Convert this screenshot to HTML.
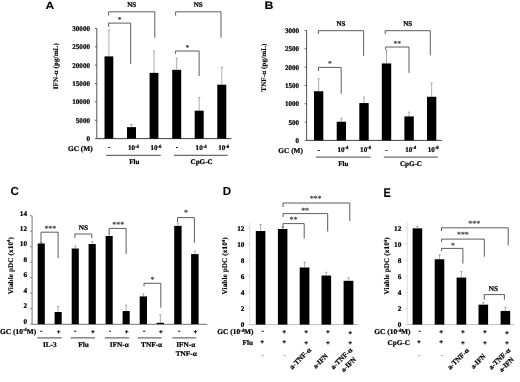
<!DOCTYPE html>
<html><head><meta charset="utf-8"><title>Figure</title>
<style>
html,body{margin:0;padding:0;background:#fff;}
body{width:520px;height:382px;overflow:hidden;font-family:"Liberation Serif",serif;}
svg{display:block;text-rendering:geometricPrecision;}
</style></head><body>
<svg width="520" height="382" viewBox="0 0 520 382">
<defs><filter id="bl" x="0" y="0" width="520" height="382" filterUnits="userSpaceOnUse"><feGaussianBlur stdDeviation="0.45"/></filter><filter id="bl2" x="0" y="0" width="520" height="382" filterUnits="userSpaceOnUse"><feGaussianBlur stdDeviation="0.25"/></filter></defs>
<rect x="0" y="0" width="520" height="382" fill="#ffffff"/>
<g filter="url(#bl2)">
<line x1="96.80" y1="28.40" x2="96.80" y2="138.60" stroke="#2a2a2a" stroke-width="0.8"/>
<line x1="96.80" y1="138.60" x2="231.50" y2="138.60" stroke="#2a2a2a" stroke-width="0.9"/>
<line x1="94.80" y1="138.60" x2="96.80" y2="138.60" stroke="#2a2a2a" stroke-width="0.7"/>
<line x1="94.80" y1="120.23" x2="96.80" y2="120.23" stroke="#2a2a2a" stroke-width="0.7"/>
<line x1="94.80" y1="101.87" x2="96.80" y2="101.87" stroke="#2a2a2a" stroke-width="0.7"/>
<line x1="94.80" y1="83.50" x2="96.80" y2="83.50" stroke="#2a2a2a" stroke-width="0.7"/>
<line x1="94.80" y1="65.13" x2="96.80" y2="65.13" stroke="#2a2a2a" stroke-width="0.7"/>
<line x1="94.80" y1="46.77" x2="96.80" y2="46.77" stroke="#2a2a2a" stroke-width="0.7"/>
<line x1="94.80" y1="28.40" x2="96.80" y2="28.40" stroke="#2a2a2a" stroke-width="0.7"/>
<line x1="108.90" y1="56.39" x2="108.90" y2="30.20" stroke="#8a8a8a" stroke-width="0.7"/>
<line x1="107.70" y1="30.20" x2="110.10" y2="30.20" stroke="#8a8a8a" stroke-width="0.7"/>
<line x1="131.50" y1="127.14" x2="131.50" y2="124.40" stroke="#8a8a8a" stroke-width="0.7"/>
<line x1="130.30" y1="124.40" x2="132.70" y2="124.40" stroke="#8a8a8a" stroke-width="0.7"/>
<line x1="154.00" y1="72.85" x2="154.00" y2="51.00" stroke="#8a8a8a" stroke-width="0.7"/>
<line x1="152.80" y1="51.00" x2="155.20" y2="51.00" stroke="#8a8a8a" stroke-width="0.7"/>
<line x1="176.70" y1="69.84" x2="176.70" y2="58.30" stroke="#8a8a8a" stroke-width="0.7"/>
<line x1="175.50" y1="58.30" x2="177.90" y2="58.30" stroke="#8a8a8a" stroke-width="0.7"/>
<line x1="199.20" y1="110.68" x2="199.20" y2="97.50" stroke="#8a8a8a" stroke-width="0.7"/>
<line x1="198.00" y1="97.50" x2="200.40" y2="97.50" stroke="#8a8a8a" stroke-width="0.7"/>
<line x1="221.80" y1="84.68" x2="221.80" y2="67.40" stroke="#8a8a8a" stroke-width="0.7"/>
<line x1="220.60" y1="67.40" x2="223.00" y2="67.40" stroke="#8a8a8a" stroke-width="0.7"/>
<line x1="106.20" y1="155.30" x2="160.70" y2="155.30" stroke="#333" stroke-width="0.9"/>
<line x1="174.00" y1="155.30" x2="227.60" y2="155.30" stroke="#333" stroke-width="0.9"/>
<polyline points="108.60,15.60 108.60,11.80 154.80,11.80 154.80,37.70" fill="none" stroke="#333" stroke-width="0.8"/>
<polyline points="108.60,27.00 108.60,23.10 130.70,23.10 130.70,64.00" fill="none" stroke="#333" stroke-width="0.8"/>
<polyline points="175.60,15.60 175.60,11.80 221.00,11.80 221.00,37.70" fill="none" stroke="#333" stroke-width="0.8"/>
<polyline points="175.60,54.00 175.60,51.00 199.10,51.00 199.10,76.00" fill="none" stroke="#333" stroke-width="0.8"/>
<line x1="306.60" y1="30.40" x2="306.60" y2="140.40" stroke="#2a2a2a" stroke-width="0.8"/>
<line x1="306.60" y1="140.40" x2="441.80" y2="140.40" stroke="#2a2a2a" stroke-width="0.9"/>
<line x1="304.60" y1="140.40" x2="306.60" y2="140.40" stroke="#2a2a2a" stroke-width="0.7"/>
<line x1="304.60" y1="122.07" x2="306.60" y2="122.07" stroke="#2a2a2a" stroke-width="0.7"/>
<line x1="304.60" y1="103.73" x2="306.60" y2="103.73" stroke="#2a2a2a" stroke-width="0.7"/>
<line x1="304.60" y1="85.40" x2="306.60" y2="85.40" stroke="#2a2a2a" stroke-width="0.7"/>
<line x1="304.60" y1="67.07" x2="306.60" y2="67.07" stroke="#2a2a2a" stroke-width="0.7"/>
<line x1="304.60" y1="48.73" x2="306.60" y2="48.73" stroke="#2a2a2a" stroke-width="0.7"/>
<line x1="304.60" y1="30.40" x2="306.60" y2="30.40" stroke="#2a2a2a" stroke-width="0.7"/>
<line x1="318.65" y1="91.23" x2="318.65" y2="78.70" stroke="#8a8a8a" stroke-width="0.7"/>
<line x1="317.45" y1="78.70" x2="319.85" y2="78.70" stroke="#8a8a8a" stroke-width="0.7"/>
<line x1="341.35" y1="121.74" x2="341.35" y2="118.40" stroke="#8a8a8a" stroke-width="0.7"/>
<line x1="340.15" y1="118.40" x2="342.55" y2="118.40" stroke="#8a8a8a" stroke-width="0.7"/>
<line x1="364.00" y1="103.07" x2="364.00" y2="97.00" stroke="#8a8a8a" stroke-width="0.7"/>
<line x1="362.80" y1="97.00" x2="365.20" y2="97.00" stroke="#8a8a8a" stroke-width="0.7"/>
<line x1="386.50" y1="63.44" x2="386.50" y2="50.30" stroke="#8a8a8a" stroke-width="0.7"/>
<line x1="385.30" y1="50.30" x2="387.70" y2="50.30" stroke="#8a8a8a" stroke-width="0.7"/>
<line x1="409.10" y1="116.42" x2="409.10" y2="112.10" stroke="#8a8a8a" stroke-width="0.7"/>
<line x1="407.90" y1="112.10" x2="410.30" y2="112.10" stroke="#8a8a8a" stroke-width="0.7"/>
<line x1="431.65" y1="96.77" x2="431.65" y2="83.00" stroke="#8a8a8a" stroke-width="0.7"/>
<line x1="430.45" y1="83.00" x2="432.85" y2="83.00" stroke="#8a8a8a" stroke-width="0.7"/>
<line x1="315.80" y1="157.10" x2="370.60" y2="157.10" stroke="#333" stroke-width="0.9"/>
<line x1="383.80" y1="157.10" x2="437.90" y2="157.10" stroke="#333" stroke-width="0.9"/>
<polyline points="318.40,34.00 318.40,30.70 363.60,30.70 363.60,55.80" fill="none" stroke="#333" stroke-width="0.8"/>
<polyline points="318.40,71.00 318.40,67.40 341.20,67.40 341.20,93.80" fill="none" stroke="#333" stroke-width="0.8"/>
<polyline points="385.20,34.00 385.20,30.70 430.30,30.70 430.30,55.30" fill="none" stroke="#333" stroke-width="0.8"/>
<polyline points="385.60,49.50 385.60,47.00 409.00,47.00 409.00,72.90" fill="none" stroke="#333" stroke-width="0.8"/>
<line x1="32.10" y1="215.80" x2="32.10" y2="324.10" stroke="#555" stroke-width="0.8"/>
<line x1="32.10" y1="324.30" x2="207.30" y2="324.30" stroke="#444" stroke-width="0.75"/>
<line x1="30.10" y1="324.10" x2="32.10" y2="324.10" stroke="#555" stroke-width="0.7"/>
<line x1="30.10" y1="308.63" x2="32.10" y2="308.63" stroke="#555" stroke-width="0.7"/>
<line x1="30.10" y1="293.16" x2="32.10" y2="293.16" stroke="#555" stroke-width="0.7"/>
<line x1="30.10" y1="277.69" x2="32.10" y2="277.69" stroke="#555" stroke-width="0.7"/>
<line x1="30.10" y1="262.21" x2="32.10" y2="262.21" stroke="#555" stroke-width="0.7"/>
<line x1="30.10" y1="246.74" x2="32.10" y2="246.74" stroke="#555" stroke-width="0.7"/>
<line x1="30.10" y1="231.27" x2="32.10" y2="231.27" stroke="#555" stroke-width="0.7"/>
<line x1="30.10" y1="215.80" x2="32.10" y2="215.80" stroke="#555" stroke-width="0.7"/>
<line x1="41.25" y1="243.49" x2="41.25" y2="242.50" stroke="#8a8a8a" stroke-width="0.7"/>
<line x1="40.05" y1="242.50" x2="42.45" y2="242.50" stroke="#8a8a8a" stroke-width="0.7"/>
<line x1="58.15" y1="312.03" x2="58.15" y2="306.50" stroke="#8a8a8a" stroke-width="0.7"/>
<line x1="56.95" y1="306.50" x2="59.35" y2="306.50" stroke="#8a8a8a" stroke-width="0.7"/>
<line x1="75.25" y1="248.52" x2="75.25" y2="246.00" stroke="#8a8a8a" stroke-width="0.7"/>
<line x1="74.05" y1="246.00" x2="76.45" y2="246.00" stroke="#8a8a8a" stroke-width="0.7"/>
<line x1="92.20" y1="244.04" x2="92.20" y2="241.50" stroke="#8a8a8a" stroke-width="0.7"/>
<line x1="91.00" y1="241.50" x2="93.40" y2="241.50" stroke="#8a8a8a" stroke-width="0.7"/>
<line x1="109.15" y1="235.99" x2="109.15" y2="234.00" stroke="#8a8a8a" stroke-width="0.7"/>
<line x1="107.95" y1="234.00" x2="110.35" y2="234.00" stroke="#8a8a8a" stroke-width="0.7"/>
<line x1="126.15" y1="311.03" x2="126.15" y2="305.20" stroke="#8a8a8a" stroke-width="0.7"/>
<line x1="124.95" y1="305.20" x2="127.35" y2="305.20" stroke="#8a8a8a" stroke-width="0.7"/>
<line x1="143.35" y1="296.41" x2="143.35" y2="293.90" stroke="#8a8a8a" stroke-width="0.7"/>
<line x1="142.15" y1="293.90" x2="144.55" y2="293.90" stroke="#8a8a8a" stroke-width="0.7"/>
<line x1="160.35" y1="322.78" x2="160.35" y2="314.80" stroke="#8a8a8a" stroke-width="0.7"/>
<line x1="159.15" y1="314.80" x2="161.55" y2="314.80" stroke="#8a8a8a" stroke-width="0.7"/>
<line x1="177.90" y1="225.86" x2="177.90" y2="223.10" stroke="#8a8a8a" stroke-width="0.7"/>
<line x1="176.70" y1="223.10" x2="179.10" y2="223.10" stroke="#8a8a8a" stroke-width="0.7"/>
<line x1="194.85" y1="254.09" x2="194.85" y2="251.00" stroke="#8a8a8a" stroke-width="0.7"/>
<line x1="193.65" y1="251.00" x2="196.05" y2="251.00" stroke="#8a8a8a" stroke-width="0.7"/>
<line x1="37.30" y1="337.90" x2="61.70" y2="337.90" stroke="#333" stroke-width="0.9"/>
<line x1="70.70" y1="337.90" x2="95.00" y2="337.90" stroke="#333" stroke-width="0.9"/>
<line x1="104.80" y1="337.90" x2="129.20" y2="337.90" stroke="#333" stroke-width="0.9"/>
<line x1="137.80" y1="337.90" x2="161.60" y2="337.90" stroke="#333" stroke-width="0.9"/>
<line x1="172.40" y1="337.90" x2="196.20" y2="337.90" stroke="#333" stroke-width="0.9"/>
<polyline points="41.00,243.00 41.00,232.20 58.10,232.20 58.10,258.30" fill="none" stroke="#333" stroke-width="0.8"/>
<polyline points="74.90,238.00 74.90,234.00 91.80,234.00 91.80,238.00" fill="none" stroke="#333" stroke-width="0.8"/>
<polyline points="109.20,234.00 109.20,228.40 126.10,228.40 126.10,254.00" fill="none" stroke="#333" stroke-width="0.8"/>
<polyline points="144.00,286.30 144.00,283.30 160.80,283.30 160.80,307.70" fill="none" stroke="#333" stroke-width="0.8"/>
<polyline points="177.50,222.00 177.50,217.60 194.40,217.60 194.40,242.70" fill="none" stroke="#333" stroke-width="0.8"/>
<line x1="249.80" y1="221.80" x2="249.80" y2="324.60" stroke="#d0d0d0" stroke-width="0.7"/>
<line x1="249.80" y1="324.60" x2="358.50" y2="324.60" stroke="#aaa" stroke-width="0.8"/>
<line x1="247.80" y1="324.60" x2="249.80" y2="324.60" stroke="#d0d0d0" stroke-width="0.7"/>
<line x1="247.80" y1="308.47" x2="249.80" y2="308.47" stroke="#d0d0d0" stroke-width="0.7"/>
<line x1="247.80" y1="292.33" x2="249.80" y2="292.33" stroke="#d0d0d0" stroke-width="0.7"/>
<line x1="247.80" y1="276.20" x2="249.80" y2="276.20" stroke="#d0d0d0" stroke-width="0.7"/>
<line x1="247.80" y1="260.07" x2="249.80" y2="260.07" stroke="#d0d0d0" stroke-width="0.7"/>
<line x1="247.80" y1="243.93" x2="249.80" y2="243.93" stroke="#d0d0d0" stroke-width="0.7"/>
<line x1="247.80" y1="227.80" x2="249.80" y2="227.80" stroke="#d0d0d0" stroke-width="0.7"/>
<line x1="260.60" y1="231.03" x2="260.60" y2="224.60" stroke="#8a8a8a" stroke-width="0.7"/>
<line x1="259.40" y1="224.60" x2="261.80" y2="224.60" stroke="#8a8a8a" stroke-width="0.7"/>
<line x1="282.65" y1="229.01" x2="282.65" y2="226.80" stroke="#8a8a8a" stroke-width="0.7"/>
<line x1="281.45" y1="226.80" x2="283.85" y2="226.80" stroke="#8a8a8a" stroke-width="0.7"/>
<line x1="304.55" y1="267.49" x2="304.55" y2="262.30" stroke="#8a8a8a" stroke-width="0.7"/>
<line x1="303.35" y1="262.30" x2="305.75" y2="262.30" stroke="#8a8a8a" stroke-width="0.7"/>
<line x1="326.30" y1="275.55" x2="326.30" y2="272.30" stroke="#8a8a8a" stroke-width="0.7"/>
<line x1="325.10" y1="272.30" x2="327.50" y2="272.30" stroke="#8a8a8a" stroke-width="0.7"/>
<line x1="348.50" y1="280.80" x2="348.50" y2="277.80" stroke="#8a8a8a" stroke-width="0.7"/>
<line x1="347.30" y1="277.80" x2="349.70" y2="277.80" stroke="#8a8a8a" stroke-width="0.7"/>
<polyline points="283.00,207.00 283.00,203.00 349.80,203.00 349.80,221.00" fill="none" stroke="#333" stroke-width="0.8"/>
<polyline points="283.00,217.00 283.00,213.60 327.70,213.60 327.70,231.60" fill="none" stroke="#333" stroke-width="0.8"/>
<polyline points="283.00,228.00 283.00,223.60 304.20,223.60 304.20,238.50" fill="none" stroke="#333" stroke-width="0.8"/>
<line x1="407.30" y1="221.80" x2="407.30" y2="324.60" stroke="#d0d0d0" stroke-width="0.7"/>
<line x1="407.30" y1="324.60" x2="514.00" y2="324.60" stroke="#aaa" stroke-width="0.8"/>
<line x1="405.30" y1="324.60" x2="407.30" y2="324.60" stroke="#d0d0d0" stroke-width="0.7"/>
<line x1="405.30" y1="308.47" x2="407.30" y2="308.47" stroke="#d0d0d0" stroke-width="0.7"/>
<line x1="405.30" y1="292.33" x2="407.30" y2="292.33" stroke="#d0d0d0" stroke-width="0.7"/>
<line x1="405.30" y1="276.20" x2="407.30" y2="276.20" stroke="#d0d0d0" stroke-width="0.7"/>
<line x1="405.30" y1="260.07" x2="407.30" y2="260.07" stroke="#d0d0d0" stroke-width="0.7"/>
<line x1="405.30" y1="243.93" x2="407.30" y2="243.93" stroke="#d0d0d0" stroke-width="0.7"/>
<line x1="405.30" y1="227.80" x2="407.30" y2="227.80" stroke="#d0d0d0" stroke-width="0.7"/>
<line x1="417.40" y1="228.36" x2="417.40" y2="226.50" stroke="#8a8a8a" stroke-width="0.7"/>
<line x1="416.20" y1="226.50" x2="418.60" y2="226.50" stroke="#8a8a8a" stroke-width="0.7"/>
<line x1="439.50" y1="259.26" x2="439.50" y2="254.90" stroke="#8a8a8a" stroke-width="0.7"/>
<line x1="438.30" y1="254.90" x2="440.70" y2="254.90" stroke="#8a8a8a" stroke-width="0.7"/>
<line x1="461.40" y1="277.57" x2="461.40" y2="271.40" stroke="#8a8a8a" stroke-width="0.7"/>
<line x1="460.20" y1="271.40" x2="462.60" y2="271.40" stroke="#8a8a8a" stroke-width="0.7"/>
<line x1="483.30" y1="304.68" x2="483.30" y2="302.40" stroke="#8a8a8a" stroke-width="0.7"/>
<line x1="482.10" y1="302.40" x2="484.50" y2="302.40" stroke="#8a8a8a" stroke-width="0.7"/>
<line x1="505.40" y1="310.97" x2="505.40" y2="307.20" stroke="#8a8a8a" stroke-width="0.7"/>
<line x1="504.20" y1="307.20" x2="506.60" y2="307.20" stroke="#8a8a8a" stroke-width="0.7"/>
<polyline points="441.50,231.00 441.50,227.80 508.20,227.80 508.20,245.40" fill="none" stroke="#333" stroke-width="0.8"/>
<polyline points="441.50,242.00 441.50,239.10 484.30,239.10 484.30,256.70" fill="none" stroke="#333" stroke-width="0.8"/>
<polyline points="441.50,251.00 441.50,248.40 462.90,248.40 462.90,263.70" fill="none" stroke="#333" stroke-width="0.8"/>
<polyline points="484.30,299.70 484.30,294.60 504.40,294.60 504.40,299.70" fill="none" stroke="#333" stroke-width="0.8"/>
</g>
<g filter="url(#bl)">
<text x="45.50" y="9.20" font-family='"Liberation Sans", sans-serif' font-size="10.6" font-weight="bold" text-anchor="start" fill="#000" stroke="#000" stroke-width="0.1" letter-spacing="0" transform="translate(45.50 9.20) scale(1.14 1) translate(-45.50 -9.20)">A</text>
<text x="90.00" y="141.00" font-family='"Liberation Serif", serif' font-size="7.1" font-weight="bold" text-anchor="end" fill="#000" stroke="#000" stroke-width="0.22" letter-spacing="0">0</text>
<text x="90.00" y="122.63" font-family='"Liberation Serif", serif' font-size="7.1" font-weight="bold" text-anchor="end" fill="#000" stroke="#000" stroke-width="0.22" letter-spacing="0">5000</text>
<text x="90.00" y="104.27" font-family='"Liberation Serif", serif' font-size="7.1" font-weight="bold" text-anchor="end" fill="#000" stroke="#000" stroke-width="0.22" letter-spacing="0">10000</text>
<text x="90.00" y="85.90" font-family='"Liberation Serif", serif' font-size="7.1" font-weight="bold" text-anchor="end" fill="#000" stroke="#000" stroke-width="0.22" letter-spacing="0">15000</text>
<text x="90.00" y="67.53" font-family='"Liberation Serif", serif' font-size="7.1" font-weight="bold" text-anchor="end" fill="#000" stroke="#000" stroke-width="0.22" letter-spacing="0">20000</text>
<text x="90.00" y="49.17" font-family='"Liberation Serif", serif' font-size="7.1" font-weight="bold" text-anchor="end" fill="#000" stroke="#000" stroke-width="0.22" letter-spacing="0">25000</text>
<text x="90.00" y="30.80" font-family='"Liberation Serif", serif' font-size="7.1" font-weight="bold" text-anchor="end" fill="#000" stroke="#000" stroke-width="0.22" letter-spacing="0">30000</text>
<rect x="104.50" y="56.39" width="8.80" height="82.21" fill="#000"/>
<rect x="127.00" y="127.14" width="9.00" height="11.46" fill="#000"/>
<rect x="149.60" y="72.85" width="8.80" height="65.75" fill="#000"/>
<rect x="172.20" y="69.84" width="9.00" height="68.76" fill="#000"/>
<rect x="194.70" y="110.68" width="9.00" height="27.92" fill="#000"/>
<rect x="217.30" y="84.68" width="9.00" height="53.92" fill="#000"/>
<text x="57.60" y="66.20" font-family='"Liberation Serif", serif' font-size="7.0" font-weight="bold" text-anchor="middle" fill="#000" stroke="#000" stroke-width="0.15" letter-spacing="0.12" transform="rotate(-90 57.60 66.20)">IFN-&#945; (pg/mL)</text>
<text x="92.70" y="150.50" font-family='"Liberation Serif", serif' font-size="7.35" font-weight="bold" text-anchor="end" fill="#000" stroke="#000" stroke-width="0.22" letter-spacing="0">GC (M)</text>
<text x="109.20" y="149.30" font-family='"Liberation Serif", serif' font-size="7.1" font-weight="bold" text-anchor="middle" fill="#000" stroke="#000" stroke-width="0.22" letter-spacing="0">-</text>
<text x="133.40" y="149.90" font-family='"Liberation Serif", serif' font-size="7.1" font-weight="bold" text-anchor="middle" fill="#000" stroke="#000" stroke-width="0.22" letter-spacing="0">10<tspan font-size="4.8" dy="-2.3" dx="-0.1">-4</tspan><tspan dy="2.3" font-size="1">&#8203;</tspan></text>
<text x="155.90" y="149.90" font-family='"Liberation Serif", serif' font-size="7.1" font-weight="bold" text-anchor="middle" fill="#000" stroke="#000" stroke-width="0.22" letter-spacing="0">10<tspan font-size="4.8" dy="-2.3" dx="-0.1">-6</tspan><tspan dy="2.3" font-size="1">&#8203;</tspan></text>
<text x="177.00" y="149.30" font-family='"Liberation Serif", serif' font-size="7.1" font-weight="bold" text-anchor="middle" fill="#000" stroke="#000" stroke-width="0.22" letter-spacing="0">-</text>
<text x="201.10" y="149.90" font-family='"Liberation Serif", serif' font-size="7.1" font-weight="bold" text-anchor="middle" fill="#000" stroke="#000" stroke-width="0.22" letter-spacing="0">10<tspan font-size="4.8" dy="-2.3" dx="-0.1">-4</tspan><tspan dy="2.3" font-size="1">&#8203;</tspan></text>
<text x="223.70" y="149.90" font-family='"Liberation Serif", serif' font-size="7.1" font-weight="bold" text-anchor="middle" fill="#000" stroke="#000" stroke-width="0.22" letter-spacing="0">10<tspan font-size="4.8" dy="-2.3" dx="-0.1">-6</tspan><tspan dy="2.3" font-size="1">&#8203;</tspan></text>
<text x="134.25" y="164.00" font-family='"Liberation Serif", serif' font-size="7.1" font-weight="bold" text-anchor="middle" fill="#000" stroke="#000" stroke-width="0.22" letter-spacing="0">Flu</text>
<text x="201.60" y="164.00" font-family='"Liberation Serif", serif' font-size="7.1" font-weight="bold" text-anchor="middle" fill="#000" stroke="#000" stroke-width="0.22" letter-spacing="0">CpG-C</text>
<text x="131.70" y="6.92" font-family='"Liberation Serif", serif' font-size="7.1" font-weight="bold" text-anchor="middle" fill="#000" stroke="#000" stroke-width="0.22" letter-spacing="0">NS</text>
<text x="119.65" y="21.73" font-family='"Liberation Serif", serif' font-size="7.699999999999999" font-weight="bold" text-anchor="middle" fill="#333" stroke="#333" stroke-width="0.05" letter-spacing="0">*</text>
<text x="198.30" y="6.92" font-family='"Liberation Serif", serif' font-size="7.1" font-weight="bold" text-anchor="middle" fill="#000" stroke="#000" stroke-width="0.22" letter-spacing="0">NS</text>
<text x="187.35" y="49.53" font-family='"Liberation Serif", serif' font-size="7.699999999999999" font-weight="bold" text-anchor="middle" fill="#333" stroke="#333" stroke-width="0.05" letter-spacing="0">*</text>
<text x="264.60" y="8.90" font-family='"Liberation Sans", sans-serif' font-size="10.8" font-weight="bold" text-anchor="start" fill="#000" stroke="#000" stroke-width="0.1" letter-spacing="0" transform="translate(264.60 8.90) scale(1.14 1) translate(-264.60 -8.90)">B</text>
<text x="299.10" y="143.00" font-family='"Liberation Serif", serif' font-size="7.1" font-weight="bold" text-anchor="end" fill="#000" stroke="#000" stroke-width="0.22" letter-spacing="0">0</text>
<text x="299.10" y="124.67" font-family='"Liberation Serif", serif' font-size="7.1" font-weight="bold" text-anchor="end" fill="#000" stroke="#000" stroke-width="0.22" letter-spacing="0">500</text>
<text x="299.10" y="106.33" font-family='"Liberation Serif", serif' font-size="7.1" font-weight="bold" text-anchor="end" fill="#000" stroke="#000" stroke-width="0.22" letter-spacing="0">1000</text>
<text x="299.10" y="88.00" font-family='"Liberation Serif", serif' font-size="7.1" font-weight="bold" text-anchor="end" fill="#000" stroke="#000" stroke-width="0.22" letter-spacing="0">1500</text>
<text x="299.10" y="69.67" font-family='"Liberation Serif", serif' font-size="7.1" font-weight="bold" text-anchor="end" fill="#000" stroke="#000" stroke-width="0.22" letter-spacing="0">2000</text>
<text x="299.10" y="51.33" font-family='"Liberation Serif", serif' font-size="7.1" font-weight="bold" text-anchor="end" fill="#000" stroke="#000" stroke-width="0.22" letter-spacing="0">2500</text>
<text x="299.10" y="33.00" font-family='"Liberation Serif", serif' font-size="7.1" font-weight="bold" text-anchor="end" fill="#000" stroke="#000" stroke-width="0.22" letter-spacing="0">3000</text>
<rect x="314.00" y="91.23" width="9.30" height="49.17" fill="#000"/>
<rect x="336.70" y="121.74" width="9.30" height="18.66" fill="#000"/>
<rect x="359.30" y="103.07" width="9.40" height="37.33" fill="#000"/>
<rect x="381.80" y="63.44" width="9.40" height="76.96" fill="#000"/>
<rect x="404.40" y="116.42" width="9.40" height="23.98" fill="#000"/>
<rect x="427.00" y="96.77" width="9.30" height="43.63" fill="#000"/>
<text x="265.70" y="67.60" font-family='"Liberation Serif", serif' font-size="7.0" font-weight="bold" text-anchor="middle" fill="#000" stroke="#000" stroke-width="0.15" letter-spacing="0.12" transform="rotate(-90 265.70 67.60)">TNF-&#945; (pg/mL)</text>
<text x="303.00" y="152.60" font-family='"Liberation Serif", serif' font-size="7.35" font-weight="bold" text-anchor="end" fill="#000" stroke="#000" stroke-width="0.22" letter-spacing="0">GC (M)</text>
<text x="318.65" y="151.70" font-family='"Liberation Serif", serif' font-size="7.1" font-weight="bold" text-anchor="middle" fill="#000" stroke="#000" stroke-width="0.22" letter-spacing="0">-</text>
<text x="342.95" y="151.70" font-family='"Liberation Serif", serif' font-size="7.1" font-weight="bold" text-anchor="middle" fill="#000" stroke="#000" stroke-width="0.22" letter-spacing="0">10<tspan font-size="4.8" dy="-2.3" dx="-0.1">-4</tspan><tspan dy="2.3" font-size="1">&#8203;</tspan></text>
<text x="365.60" y="151.70" font-family='"Liberation Serif", serif' font-size="7.1" font-weight="bold" text-anchor="middle" fill="#000" stroke="#000" stroke-width="0.22" letter-spacing="0">10<tspan font-size="4.8" dy="-2.3" dx="-0.1">-6</tspan><tspan dy="2.3" font-size="1">&#8203;</tspan></text>
<text x="386.50" y="151.70" font-family='"Liberation Serif", serif' font-size="7.1" font-weight="bold" text-anchor="middle" fill="#000" stroke="#000" stroke-width="0.22" letter-spacing="0">-</text>
<text x="410.70" y="151.70" font-family='"Liberation Serif", serif' font-size="7.1" font-weight="bold" text-anchor="middle" fill="#000" stroke="#000" stroke-width="0.22" letter-spacing="0">10<tspan font-size="4.8" dy="-2.3" dx="-0.1">-4</tspan><tspan dy="2.3" font-size="1">&#8203;</tspan></text>
<text x="433.25" y="151.70" font-family='"Liberation Serif", serif' font-size="7.1" font-weight="bold" text-anchor="middle" fill="#000" stroke="#000" stroke-width="0.22" letter-spacing="0">10<tspan font-size="4.8" dy="-2.3" dx="-0.1">-6</tspan><tspan dy="2.3" font-size="1">&#8203;</tspan></text>
<text x="343.30" y="165.80" font-family='"Liberation Serif", serif' font-size="7.1" font-weight="bold" text-anchor="middle" fill="#000" stroke="#000" stroke-width="0.22" letter-spacing="0">Flu</text>
<text x="410.95" y="165.80" font-family='"Liberation Serif", serif' font-size="7.1" font-weight="bold" text-anchor="middle" fill="#000" stroke="#000" stroke-width="0.22" letter-spacing="0">CpG-C</text>
<text x="341.00" y="26.22" font-family='"Liberation Serif", serif' font-size="7.1" font-weight="bold" text-anchor="middle" fill="#000" stroke="#000" stroke-width="0.22" letter-spacing="0">NS</text>
<text x="329.80" y="66.03" font-family='"Liberation Serif", serif' font-size="7.699999999999999" font-weight="bold" text-anchor="middle" fill="#333" stroke="#333" stroke-width="0.05" letter-spacing="0">*</text>
<text x="407.75" y="26.22" font-family='"Liberation Serif", serif' font-size="7.1" font-weight="bold" text-anchor="middle" fill="#000" stroke="#000" stroke-width="0.22" letter-spacing="0">NS</text>
<text x="397.30" y="45.63" font-family='"Liberation Serif", serif' font-size="7.699999999999999" font-weight="bold" text-anchor="middle" fill="#333" stroke="#333" stroke-width="0.05" letter-spacing="0">**</text>
<text x="10.60" y="195.30" font-family='"Liberation Sans", sans-serif' font-size="11.6" font-weight="bold" text-anchor="start" fill="#000" stroke="#000" stroke-width="0.1" letter-spacing="0">C</text>
<text x="27.10" y="323.80" font-family='"Liberation Serif", serif' font-size="7.3" font-weight="bold" text-anchor="end" fill="#000" stroke="#000" stroke-width="0.22" letter-spacing="0">0</text>
<text x="27.10" y="308.33" font-family='"Liberation Serif", serif' font-size="7.3" font-weight="bold" text-anchor="end" fill="#000" stroke="#000" stroke-width="0.22" letter-spacing="0">2</text>
<text x="27.10" y="292.86" font-family='"Liberation Serif", serif' font-size="7.3" font-weight="bold" text-anchor="end" fill="#000" stroke="#000" stroke-width="0.22" letter-spacing="0">4</text>
<text x="27.10" y="277.39" font-family='"Liberation Serif", serif' font-size="7.3" font-weight="bold" text-anchor="end" fill="#000" stroke="#000" stroke-width="0.22" letter-spacing="0">6</text>
<text x="27.10" y="261.91" font-family='"Liberation Serif", serif' font-size="7.3" font-weight="bold" text-anchor="end" fill="#000" stroke="#000" stroke-width="0.22" letter-spacing="0">8</text>
<text x="27.10" y="246.44" font-family='"Liberation Serif", serif' font-size="7.3" font-weight="bold" text-anchor="end" fill="#000" stroke="#000" stroke-width="0.22" letter-spacing="0">10</text>
<text x="27.10" y="230.97" font-family='"Liberation Serif", serif' font-size="7.3" font-weight="bold" text-anchor="end" fill="#000" stroke="#000" stroke-width="0.22" letter-spacing="0">12</text>
<text x="27.10" y="215.50" font-family='"Liberation Serif", serif' font-size="7.3" font-weight="bold" text-anchor="end" fill="#000" stroke="#000" stroke-width="0.22" letter-spacing="0">14</text>
<rect x="37.70" y="243.49" width="7.10" height="80.61" fill="#000"/>
<rect x="54.60" y="312.03" width="7.10" height="12.07" fill="#000"/>
<rect x="71.70" y="248.52" width="7.10" height="75.58" fill="#000"/>
<rect x="88.60" y="244.04" width="7.20" height="80.06" fill="#000"/>
<rect x="105.60" y="235.99" width="7.10" height="88.11" fill="#000"/>
<rect x="122.60" y="311.03" width="7.10" height="13.07" fill="#000"/>
<rect x="139.70" y="296.41" width="7.30" height="27.69" fill="#000"/>
<rect x="156.70" y="322.78" width="7.30" height="1.32" fill="#000"/>
<rect x="174.20" y="225.86" width="7.40" height="98.24" fill="#000"/>
<rect x="191.10" y="254.09" width="7.50" height="70.01" fill="#000"/>
<text x="12.60" y="265.60" font-family='"Liberation Serif", serif' font-size="7.15" font-weight="bold" text-anchor="middle" fill="#000" stroke="#000" stroke-width="0.15" letter-spacing="0.12" transform="rotate(-90 12.60 265.60)">Viable pDC (x10<tspan font-size="4.8" dy="-2.3" dx="-0.1">4</tspan><tspan dy="2.3" font-size="1">&#8203;</tspan>)</text>
<text x="36.20" y="333.60" font-family='"Liberation Serif", serif' font-size="7.4" font-weight="bold" text-anchor="end" fill="#000" stroke="#000" stroke-width="0.22" letter-spacing="0">GC (10<tspan font-size="4.8" dy="-2.3" dx="-0.1">-4</tspan><tspan dy="2.3" font-size="1">&#8203;</tspan>M)</text>
<text x="41.15" y="333.32" font-family='"Liberation Serif", serif' font-size="7.3" font-weight="bold" text-anchor="middle" fill="#000" stroke="#000" stroke-width="0.2" letter-spacing="0">-</text>
<text x="58.75" y="334.12" font-family='"Liberation Serif", serif' font-size="6.7" font-weight="bold" text-anchor="middle" fill="#000" stroke="#000" stroke-width="0.3" letter-spacing="0">+</text>
<text x="75.15" y="333.32" font-family='"Liberation Serif", serif' font-size="7.3" font-weight="bold" text-anchor="middle" fill="#000" stroke="#000" stroke-width="0.2" letter-spacing="0">-</text>
<text x="92.80" y="334.12" font-family='"Liberation Serif", serif' font-size="6.7" font-weight="bold" text-anchor="middle" fill="#000" stroke="#000" stroke-width="0.3" letter-spacing="0">+</text>
<text x="110.05" y="333.32" font-family='"Liberation Serif", serif' font-size="7.3" font-weight="bold" text-anchor="middle" fill="#000" stroke="#000" stroke-width="0.2" letter-spacing="0">-</text>
<text x="126.75" y="334.12" font-family='"Liberation Serif", serif' font-size="6.7" font-weight="bold" text-anchor="middle" fill="#000" stroke="#000" stroke-width="0.3" letter-spacing="0">+</text>
<text x="144.25" y="333.32" font-family='"Liberation Serif", serif' font-size="7.3" font-weight="bold" text-anchor="middle" fill="#000" stroke="#000" stroke-width="0.2" letter-spacing="0">-</text>
<text x="160.95" y="334.12" font-family='"Liberation Serif", serif' font-size="6.7" font-weight="bold" text-anchor="middle" fill="#000" stroke="#000" stroke-width="0.3" letter-spacing="0">+</text>
<text x="179.20" y="333.32" font-family='"Liberation Serif", serif' font-size="7.3" font-weight="bold" text-anchor="middle" fill="#000" stroke="#000" stroke-width="0.2" letter-spacing="0">-</text>
<text x="195.45" y="334.12" font-family='"Liberation Serif", serif' font-size="6.7" font-weight="bold" text-anchor="middle" fill="#000" stroke="#000" stroke-width="0.3" letter-spacing="0">+</text>
<text x="49.80" y="347.20" font-family='"Liberation Serif", serif' font-size="7.3" font-weight="bold" text-anchor="middle" fill="#000" stroke="#000" stroke-width="0.22" letter-spacing="0">IL-3</text>
<text x="83.50" y="347.20" font-family='"Liberation Serif", serif' font-size="7.3" font-weight="bold" text-anchor="middle" fill="#000" stroke="#000" stroke-width="0.22" letter-spacing="0">Flu</text>
<text x="119.30" y="347.20" font-family='"Liberation Serif", serif' font-size="7.3" font-weight="bold" text-anchor="middle" fill="#000" stroke="#000" stroke-width="0.22" letter-spacing="0">IFN-&#945;</text>
<text x="151.60" y="347.20" font-family='"Liberation Serif", serif' font-size="7.3" font-weight="bold" text-anchor="middle" fill="#000" stroke="#000" stroke-width="0.22" letter-spacing="0">TNF-&#945;</text>
<text x="185.70" y="347.20" font-family='"Liberation Serif", serif' font-size="7.3" font-weight="bold" text-anchor="middle" fill="#000" stroke="#000" stroke-width="0.22" letter-spacing="0">IFN-&#945;</text>
<text x="186.20" y="355.60" font-family='"Liberation Serif", serif' font-size="7.3" font-weight="bold" text-anchor="middle" fill="#000" stroke="#000" stroke-width="0.22" letter-spacing="0">TNF-&#945;</text>
<text x="50.30" y="230.92" font-family='"Liberation Serif", serif' font-size="7.8999999999999995" font-weight="bold" text-anchor="middle" fill="#333" stroke="#333" stroke-width="0.05" letter-spacing="0">***</text>
<text x="83.35" y="229.69" font-family='"Liberation Serif", serif' font-size="7.3" font-weight="bold" text-anchor="middle" fill="#000" stroke="#000" stroke-width="0.22" letter-spacing="0">NS</text>
<text x="118.20" y="226.82" font-family='"Liberation Serif", serif' font-size="7.8999999999999995" font-weight="bold" text-anchor="middle" fill="#333" stroke="#333" stroke-width="0.05" letter-spacing="0">***</text>
<text x="152.40" y="282.02" font-family='"Liberation Serif", serif' font-size="7.8999999999999995" font-weight="bold" text-anchor="middle" fill="#333" stroke="#333" stroke-width="0.05" letter-spacing="0">*</text>
<text x="185.95" y="215.02" font-family='"Liberation Serif", serif' font-size="7.8999999999999995" font-weight="bold" text-anchor="middle" fill="#333" stroke="#333" stroke-width="0.05" letter-spacing="0">*</text>
<text x="222.70" y="195.20" font-family='"Liberation Sans", sans-serif' font-size="11.6" font-weight="bold" text-anchor="start" fill="#000" stroke="#000" stroke-width="0.1" letter-spacing="0" transform="translate(222.70 195.20) scale(1 1) translate(-222.70 -195.20)">D</text>
<text x="244.50" y="327.40" font-family='"Liberation Serif", serif' font-size="7.3" font-weight="bold" text-anchor="end" fill="#000" stroke="#000" stroke-width="0.22" letter-spacing="0">0</text>
<text x="244.50" y="311.27" font-family='"Liberation Serif", serif' font-size="7.3" font-weight="bold" text-anchor="end" fill="#000" stroke="#000" stroke-width="0.22" letter-spacing="0">2</text>
<text x="244.50" y="295.13" font-family='"Liberation Serif", serif' font-size="7.3" font-weight="bold" text-anchor="end" fill="#000" stroke="#000" stroke-width="0.22" letter-spacing="0">4</text>
<text x="244.50" y="279.00" font-family='"Liberation Serif", serif' font-size="7.3" font-weight="bold" text-anchor="end" fill="#000" stroke="#000" stroke-width="0.22" letter-spacing="0">6</text>
<text x="244.50" y="262.87" font-family='"Liberation Serif", serif' font-size="7.3" font-weight="bold" text-anchor="end" fill="#000" stroke="#000" stroke-width="0.22" letter-spacing="0">8</text>
<text x="244.50" y="246.73" font-family='"Liberation Serif", serif' font-size="7.3" font-weight="bold" text-anchor="end" fill="#000" stroke="#000" stroke-width="0.22" letter-spacing="0">10</text>
<text x="244.50" y="230.60" font-family='"Liberation Serif", serif' font-size="7.3" font-weight="bold" text-anchor="end" fill="#000" stroke="#000" stroke-width="0.22" letter-spacing="0">12</text>
<rect x="255.80" y="231.03" width="9.60" height="93.57" fill="#000"/>
<rect x="277.90" y="229.01" width="9.50" height="95.59" fill="#000"/>
<rect x="299.70" y="267.49" width="9.70" height="57.11" fill="#000"/>
<rect x="321.50" y="275.55" width="9.60" height="49.05" fill="#000"/>
<rect x="343.60" y="280.80" width="9.80" height="43.80" fill="#000"/>
<text x="227.30" y="265.80" font-family='"Liberation Serif", serif' font-size="7.15" font-weight="bold" text-anchor="middle" fill="#000" stroke="#000" stroke-width="0.15" letter-spacing="0.12" transform="rotate(-90 227.30 265.80)">Viable pDC (x10<tspan font-size="4.8" dy="-2.3" dx="-0.1">4</tspan><tspan dy="2.3" font-size="1">&#8203;</tspan>)</text>
<text x="253.50" y="334.10" font-family='"Liberation Serif", serif' font-size="7.4" font-weight="bold" text-anchor="end" fill="#000" stroke="#000" stroke-width="0.22" letter-spacing="0">GC (10<tspan font-size="4.8" dy="-2.3" dx="-0.1">-4</tspan><tspan dy="2.3" font-size="1">&#8203;</tspan>M)</text>
<text x="252.90" y="344.70" font-family='"Liberation Serif", serif' font-size="7.2" font-weight="bold" text-anchor="end" fill="#000" stroke="#000" stroke-width="0.22" letter-spacing="0">Flu</text>
<text x="262.80" y="332.52" font-family='"Liberation Serif", serif' font-size="7.3" font-weight="bold" text-anchor="middle" fill="#000" stroke="#000" stroke-width="0.2" letter-spacing="0">-</text>
<text x="262.20" y="343.92" font-family='"Liberation Serif", serif' font-size="6.7" font-weight="bold" text-anchor="middle" fill="#000" stroke="#000" stroke-width="0.3" letter-spacing="0">+</text>
<text x="262.70" y="357.40" font-family='"Liberation Serif", serif' font-size="5.6" font-weight="bold" text-anchor="middle" fill="#555" stroke="#555" stroke-width="0.15" letter-spacing="0">-</text>
<text x="284.25" y="333.52" font-family='"Liberation Serif", serif' font-size="6.7" font-weight="bold" text-anchor="middle" fill="#000" stroke="#000" stroke-width="0.3" letter-spacing="0">+</text>
<text x="284.25" y="343.92" font-family='"Liberation Serif", serif' font-size="6.7" font-weight="bold" text-anchor="middle" fill="#000" stroke="#000" stroke-width="0.3" letter-spacing="0">+</text>
<text x="284.75" y="357.40" font-family='"Liberation Serif", serif' font-size="5.6" font-weight="bold" text-anchor="middle" fill="#555" stroke="#555" stroke-width="0.15" letter-spacing="0">-</text>
<text x="306.15" y="334.32" font-family='"Liberation Serif", serif' font-size="6.7" font-weight="bold" text-anchor="middle" fill="#000" stroke="#000" stroke-width="0.3" letter-spacing="0">+</text>
<text x="306.15" y="344.62" font-family='"Liberation Serif", serif' font-size="6.7" font-weight="bold" text-anchor="middle" fill="#000" stroke="#000" stroke-width="0.3" letter-spacing="0">+</text>
<text x="327.90" y="334.32" font-family='"Liberation Serif", serif' font-size="6.7" font-weight="bold" text-anchor="middle" fill="#000" stroke="#000" stroke-width="0.3" letter-spacing="0">+</text>
<text x="327.90" y="344.62" font-family='"Liberation Serif", serif' font-size="6.7" font-weight="bold" text-anchor="middle" fill="#000" stroke="#000" stroke-width="0.3" letter-spacing="0">+</text>
<text x="350.10" y="334.62" font-family='"Liberation Serif", serif' font-size="6.7" font-weight="bold" text-anchor="middle" fill="#000" stroke="#000" stroke-width="0.3" letter-spacing="0">+</text>
<text x="350.10" y="344.92" font-family='"Liberation Serif", serif' font-size="6.7" font-weight="bold" text-anchor="middle" fill="#000" stroke="#000" stroke-width="0.3" letter-spacing="0">+</text>
<text x="315.60" y="201.32" font-family='"Liberation Serif", serif' font-size="7.8999999999999995" font-weight="bold" text-anchor="middle" fill="#333" stroke="#333" stroke-width="0.05" letter-spacing="0">***</text>
<text x="305.10" y="212.72" font-family='"Liberation Serif", serif' font-size="7.8999999999999995" font-weight="bold" text-anchor="middle" fill="#333" stroke="#333" stroke-width="0.05" letter-spacing="0">**</text>
<text x="293.50" y="222.42" font-family='"Liberation Serif", serif' font-size="7.8999999999999995" font-weight="bold" text-anchor="middle" fill="#333" stroke="#333" stroke-width="0.05" letter-spacing="0">**</text>
<text x="311.60" y="350.60" font-family='"Liberation Serif", serif' font-size="7.3" font-weight="bold" text-anchor="end" fill="#000" stroke="#000" stroke-width="0.22" letter-spacing="0" transform="rotate(-45 311.60 350.60)">a-TNF-&#945;</text>
<text x="328.30" y="356.40" font-family='"Liberation Serif", serif' font-size="7.0" font-weight="bold" text-anchor="end" fill="#000" stroke="#000" stroke-width="0.22" letter-spacing="0" transform="rotate(-45 328.30 356.40)">a-IFN</text>
<text x="352.80" y="350.60" font-family='"Liberation Serif", serif' font-size="7.3" font-weight="bold" text-anchor="end" fill="#000" stroke="#000" stroke-width="0.22" letter-spacing="0" transform="rotate(-45 352.80 350.60)">a-TNF-&#945;</text>
<text x="356.50" y="359.80" font-family='"Liberation Serif", serif' font-size="7.0" font-weight="bold" text-anchor="end" fill="#000" stroke="#000" stroke-width="0.22" letter-spacing="0" transform="rotate(-45 356.50 359.80)">a-IFN</text>
<text x="383.60" y="196.80" font-family='"Liberation Sans", sans-serif' font-size="12.7" font-weight="bold" text-anchor="start" fill="#000" stroke="#000" stroke-width="0.1" letter-spacing="0" transform="translate(383.60 196.80) scale(0.86 1) translate(-383.60 -196.80)">E</text>
<text x="401.30" y="327.40" font-family='"Liberation Serif", serif' font-size="7.3" font-weight="bold" text-anchor="end" fill="#000" stroke="#000" stroke-width="0.22" letter-spacing="0">0</text>
<text x="401.30" y="311.27" font-family='"Liberation Serif", serif' font-size="7.3" font-weight="bold" text-anchor="end" fill="#000" stroke="#000" stroke-width="0.22" letter-spacing="0">2</text>
<text x="401.30" y="295.13" font-family='"Liberation Serif", serif' font-size="7.3" font-weight="bold" text-anchor="end" fill="#000" stroke="#000" stroke-width="0.22" letter-spacing="0">4</text>
<text x="401.30" y="279.00" font-family='"Liberation Serif", serif' font-size="7.3" font-weight="bold" text-anchor="end" fill="#000" stroke="#000" stroke-width="0.22" letter-spacing="0">6</text>
<text x="401.30" y="262.87" font-family='"Liberation Serif", serif' font-size="7.3" font-weight="bold" text-anchor="end" fill="#000" stroke="#000" stroke-width="0.22" letter-spacing="0">8</text>
<text x="401.30" y="246.73" font-family='"Liberation Serif", serif' font-size="7.3" font-weight="bold" text-anchor="end" fill="#000" stroke="#000" stroke-width="0.22" letter-spacing="0">10</text>
<text x="401.30" y="230.60" font-family='"Liberation Serif", serif' font-size="7.3" font-weight="bold" text-anchor="end" fill="#000" stroke="#000" stroke-width="0.22" letter-spacing="0">12</text>
<rect x="412.60" y="228.36" width="9.60" height="96.24" fill="#000"/>
<rect x="434.70" y="259.26" width="9.60" height="65.34" fill="#000"/>
<rect x="456.60" y="277.57" width="9.60" height="47.03" fill="#000"/>
<rect x="478.50" y="304.68" width="9.60" height="19.92" fill="#000"/>
<rect x="500.60" y="310.97" width="9.60" height="13.63" fill="#000"/>
<text x="388.80" y="265.80" font-family='"Liberation Serif", serif' font-size="7.15" font-weight="bold" text-anchor="middle" fill="#000" stroke="#000" stroke-width="0.15" letter-spacing="0.12" transform="rotate(-90 388.80 265.80)">Viable pDC (x10<tspan font-size="4.8" dy="-2.3" dx="-0.1">4</tspan><tspan dy="2.3" font-size="1">&#8203;</tspan>)</text>
<text x="410.50" y="334.10" font-family='"Liberation Serif", serif' font-size="7.4" font-weight="bold" text-anchor="end" fill="#000" stroke="#000" stroke-width="0.22" letter-spacing="0">GC (10<tspan font-size="4.8" dy="-2.3" dx="-0.1">-4</tspan><tspan dy="2.3" font-size="1">&#8203;</tspan>M)</text>
<text x="409.90" y="344.70" font-family='"Liberation Serif", serif' font-size="7.2" font-weight="bold" text-anchor="end" fill="#000" stroke="#000" stroke-width="0.22" letter-spacing="0">CpG-C</text>
<text x="419.60" y="332.52" font-family='"Liberation Serif", serif' font-size="7.3" font-weight="bold" text-anchor="middle" fill="#000" stroke="#000" stroke-width="0.2" letter-spacing="0">-</text>
<text x="419.00" y="343.92" font-family='"Liberation Serif", serif' font-size="6.7" font-weight="bold" text-anchor="middle" fill="#000" stroke="#000" stroke-width="0.3" letter-spacing="0">+</text>
<text x="419.50" y="357.40" font-family='"Liberation Serif", serif' font-size="5.6" font-weight="bold" text-anchor="middle" fill="#555" stroke="#555" stroke-width="0.15" letter-spacing="0">-</text>
<text x="441.10" y="333.52" font-family='"Liberation Serif", serif' font-size="6.7" font-weight="bold" text-anchor="middle" fill="#000" stroke="#000" stroke-width="0.3" letter-spacing="0">+</text>
<text x="441.10" y="343.92" font-family='"Liberation Serif", serif' font-size="6.7" font-weight="bold" text-anchor="middle" fill="#000" stroke="#000" stroke-width="0.3" letter-spacing="0">+</text>
<text x="441.60" y="357.40" font-family='"Liberation Serif", serif' font-size="5.6" font-weight="bold" text-anchor="middle" fill="#555" stroke="#555" stroke-width="0.15" letter-spacing="0">-</text>
<text x="463.00" y="334.32" font-family='"Liberation Serif", serif' font-size="6.7" font-weight="bold" text-anchor="middle" fill="#000" stroke="#000" stroke-width="0.3" letter-spacing="0">+</text>
<text x="463.00" y="344.62" font-family='"Liberation Serif", serif' font-size="6.7" font-weight="bold" text-anchor="middle" fill="#000" stroke="#000" stroke-width="0.3" letter-spacing="0">+</text>
<text x="484.90" y="334.32" font-family='"Liberation Serif", serif' font-size="6.7" font-weight="bold" text-anchor="middle" fill="#000" stroke="#000" stroke-width="0.3" letter-spacing="0">+</text>
<text x="484.90" y="344.62" font-family='"Liberation Serif", serif' font-size="6.7" font-weight="bold" text-anchor="middle" fill="#000" stroke="#000" stroke-width="0.3" letter-spacing="0">+</text>
<text x="507.00" y="334.62" font-family='"Liberation Serif", serif' font-size="6.7" font-weight="bold" text-anchor="middle" fill="#000" stroke="#000" stroke-width="0.3" letter-spacing="0">+</text>
<text x="507.00" y="344.92" font-family='"Liberation Serif", serif' font-size="6.7" font-weight="bold" text-anchor="middle" fill="#000" stroke="#000" stroke-width="0.3" letter-spacing="0">+</text>
<text x="474.20" y="225.92" font-family='"Liberation Serif", serif' font-size="7.8999999999999995" font-weight="bold" text-anchor="middle" fill="#333" stroke="#333" stroke-width="0.05" letter-spacing="0">***</text>
<text x="462.90" y="237.32" font-family='"Liberation Serif", serif' font-size="7.8999999999999995" font-weight="bold" text-anchor="middle" fill="#333" stroke="#333" stroke-width="0.05" letter-spacing="0">***</text>
<text x="452.90" y="247.82" font-family='"Liberation Serif", serif' font-size="7.8999999999999995" font-weight="bold" text-anchor="middle" fill="#333" stroke="#333" stroke-width="0.05" letter-spacing="0">*</text>
<text x="493.50" y="291.09" font-family='"Liberation Serif", serif' font-size="7.3" font-weight="bold" text-anchor="middle" fill="#000" stroke="#000" stroke-width="0.22" letter-spacing="0">NS</text>
<text x="469.50" y="350.90" font-family='"Liberation Serif", serif' font-size="7.3" font-weight="bold" text-anchor="end" fill="#000" stroke="#000" stroke-width="0.22" letter-spacing="0" transform="rotate(-45 469.50 350.90)">a-TNF-&#945;</text>
<text x="486.10" y="356.70" font-family='"Liberation Serif", serif' font-size="7.0" font-weight="bold" text-anchor="end" fill="#000" stroke="#000" stroke-width="0.22" letter-spacing="0" transform="rotate(-45 486.10 356.70)">a-IFN</text>
<text x="510.80" y="350.90" font-family='"Liberation Serif", serif' font-size="7.3" font-weight="bold" text-anchor="end" fill="#000" stroke="#000" stroke-width="0.22" letter-spacing="0" transform="rotate(-45 510.80 350.90)">a-TNF-&#945;</text>
<text x="514.30" y="359.80" font-family='"Liberation Serif", serif' font-size="7.0" font-weight="bold" text-anchor="end" fill="#000" stroke="#000" stroke-width="0.22" letter-spacing="0" transform="rotate(-45 514.30 359.80)">a-IFN</text>
</g>
</svg>
</body></html>
